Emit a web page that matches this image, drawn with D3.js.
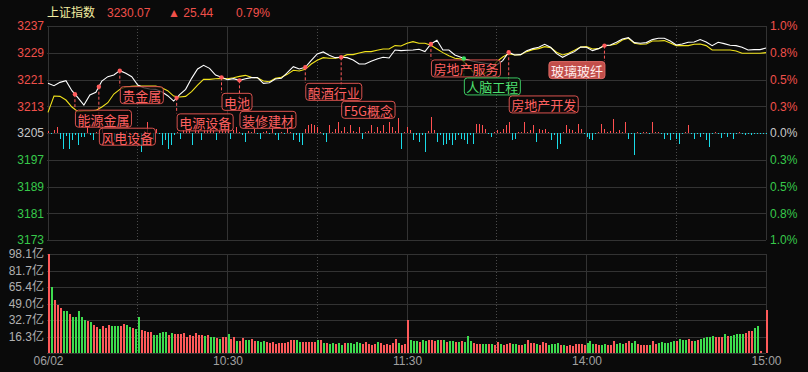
<!DOCTYPE html>
<html><head><meta charset="utf-8">
<script src="https://cdn.jsdelivr.net/npm/d3@7"></script>
<style>
html,body{margin:0;padding:0;background:#0a0a0a;}
svg{display:block;}
</style></head><body>
<svg id="c" width="808" height="372"></svg>
<script>
// ---------- DATA ----------
const title = "上证指数";
const lastPrice = "3230.07";
const change = "25.44";
const changePct = "0.79%";
const prevClose = 3204.63;
const pctLevels = [1, 0.75, 0.5, 0.25, 0, -0.25, -0.5, -0.75, -1];
const priceTicks = ["3237","3229","3221","3213","3205","3197","3189","3181","3173"];
const pctTicks = ["1.0%","0.8%","0.5%","0.3%","0.0%","0.3%","0.5%","0.8%","1.0%"];
const volTicks = [98.1, 81.7, 65.4, 49.0, 32.7, 16.3];
const timeTicks = [0, 60, 120, 180, 240];
const timeLabels = ["06/02", "10:30", "11:30", "14:00", "15:00"];
const solidMinutes = [60, 120, 180];
const dottedMinutes = [30, 90, 150, 210];
const sampleStep = 2; // minutes between line samples

// index price, every 2 minutes (0..240)
const price = [
 3219.5,3218.8,3219.8,3220.3,3217.3,3215.2,3213.0,3216.0,3216.8,3220.2,
 3221.5,3222.0,3223.3,3222.5,3221.5,3219.0,3218.2,3217.8,3217.7,3217.0,
 3215.8,3214.2,3216.1,3217.7,3221.0,3223.8,3224.9,3224.0,3222.0,3221.3,
 3220.6,3220.9,3220.4,3220.9,3221.2,3221.2,3219.5,3219.7,3220.8,3221.0,
 3222.7,3224.5,3223.8,3224.3,3226.4,3228.3,3228.9,3227.9,3227.2,3227.3,
 3227.2,3226.5,3225.3,3225.3,3226.1,3226.8,3227.3,3227.1,3229.5,3229.3,
 3229.4,
 3229.5,3229.7,3229.0,3231.3,3232.4,3229.5,3229.5,3228.0,3227.3,
 3226.6,3226.1,3225.8,3225.5,3225.2,3225.0,3226.3,3228.8,3228.0,3228.1,
 3229.3,3229.9,3230.3,3231.2,3230.3,3228.4,3227.3,3228.2,3229.0,3230.4,
 3230.3,3229.3,3229.9,3230.8,3231.0,3231.8,3232.8,3233.2,3231.7,3231.5,
 3231.7,3232.6,3233.0,3233.0,3232.2,3231.0,3231.3,3231.8,3231.9,3232.6,
 3231.9,3230.8,3231.8,3231.4,3230.9,3230.8,3230.3,3229.5,3229.6,3229.6,
 3230.07
];
// yellow (unweighted) line, every 2 minutes
const avgPrice = [
 3210.8,3215.7,3215.6,3214.5,3212.4,3211.0,3211.2,3211.2,3211.4,3212.4,
 3213.7,3216.3,3217.7,3218.4,3218.6,3218.7,3218.7,3218.7,3218.7,3218.2,
 3217.3,3215.7,3215.4,3215.6,3217.0,3219.0,3220.7,3220.7,3220.9,3221.0,
 3220.9,3221.2,3221.6,3221.9,3221.3,3221.2,3220.2,3220.0,3221.0,3221.3,
 3222.2,3223.4,3223.2,3223.7,3225.3,3226.4,3227.2,3227.0,3227.0,3227.3,
 3228.1,3228.1,3228.6,3229.0,3229.0,3229.4,3229.8,3229.8,3230.8,3230.7,
 3231.5,
 3232.0,3231.5,3231.5,3230.9,3229.8,3228.7,3227.8,3227.0,3226.8,
 3225.2,3223.0,3222.5,3222.5,3223.7,3226.0,3227.4,3228.4,3228.0,3228.1,
 3229.0,3229.6,3229.9,3230.5,3230.2,3228.8,3228.0,3228.5,3229.4,3230.4,
 3230.5,3229.8,3229.9,3230.8,3230.9,3231.3,3232.5,3233.0,3231.5,3231.2,
 3231.3,3232.2,3232.2,3232.3,3231.6,3230.8,3230.8,3230.8,3231.2,3231.3,
 3230.8,3229.5,3229.5,3229.5,3229.5,3229.2,3228.5,3228.5,3228.5,3228.5,
 3228.7
];
// per-minute buy/sell strength bars around the zero line
const flow = [
 2,-1,3,6,-6,-16,-3,-16,-7,-2,
 -12,-4,-4,6,-2,-7,1,3,6,-1,
 -2,-6,-7,-4,-1,-6,2,-7,-1,1,
 -2,-19,2,11,1,-7,4,-1,-12,-7,
 -16,-12,-2,1,-6,3,4,5,-12,6,
 3,-7,5,3,6,4,-7,5,4,3,
 8,-6,3,6,1,-2,-9,2,1,4,
 -1,-6,1,2,-1,6,-2,-7,1,-1,
 6,1,-7,-2,-9,-12,4,8,9,8,
 6,1,-2,-9,8,1,4,11,2,6,
 1,8,2,1,6,-6,1,2,8,1,
 6,2,8,1,11,6,2,15,-16,1,
 6,3,-7,-2,-9,-2,-19,2,16,3,
 -9,-2,-12,-11,-7,-12,-7,-2,-6,-7,
 -11,-2,-11,9,9,8,4,-1,-4,1,
 3,1,4,8,11,-7,-6,1,1,11,
 1,3,8,-9,4,3,4,1,-7,-2,
 -16,-11,1,8,4,3,1,9,4,-1,
 -4,-6,-7,-1,1,9,4,1,2,14,
 1,3,1,11,-6,-1,-22,1,-1,1,
 1,-1,11,1,1,-1,-6,-2,-7,-1,
 -6,-11,-1,1,8,-1,-6,-1,-4,-1,
 -7,-14,-1,1,-1,-5,-1,-4,-1,-6,
 -1,1,-1,-2,-1,-2,-1,-1,-1,-1,
 -1
];
// per-minute turnover (亿)
const volume = [
 98.1,65.0,52.8,47.9,44.6,41.2,41.2,39.0,35.3,35.3,
 41.2,36.0,33.0,31.3,30.3,28.0,25.7,23.8,27.0,24.4,
 28.0,26.4,27.0,27.0,26.4,29.0,28.0,25.7,24.8,23.8,
 35.3,22.4,21.4,21.1,20.4,18.1,18.1,19.8,21.1,21.1,
 18.1,19.8,19.1,19.1,19.1,19.8,15.9,18.1,17.1,20.1,
 18.1,18.1,17.1,18.1,15.5,15.5,14.8,14.2,16.2,16.2,
 19.1,14.2,15.5,12.2,12.2,15.2,13.2,13.2,14.2,12.2,
 12.2,11.2,12.2,11.2,10.2,11.2,9.2,10.2,10.2,10.2,
 11.2,13.2,13.2,13.2,11.2,11.2,11.2,11.2,11.2,11.2,
 13.2,13.2,10.2,10.2,9.2,10.2,9.2,10.2,8.2,10.2,
 10.2,10.2,9.2,11.2,10.2,9.2,11.2,9.2,8.2,9.2,
 11.2,10.2,8.2,9.2,8.3,9.9,14.2,9.9,8.3,8.9,
 33.0,13.2,11.6,11.6,10.6,13.2,11.6,13.2,12.6,11.6,
 13.2,12.6,13.2,10.6,11.6,11.6,10.6,10.6,11.6,10.6,
 17.2,11.6,9.9,9.2,9.2,9.2,9.2,9.2,9.2,8.3,
 10.6,8.9,8.3,9.2,9.9,9.2,9.2,8.3,8.3,9.2,
 12.6,9.9,9.9,9.2,8.3,10.6,9.9,8.3,9.2,9.2,
 9.9,8.3,8.3,7.3,8.3,7.3,8.9,9.2,8.9,8.3,
 9.9,11.6,9.2,8.9,8.3,8.3,9.2,8.3,8.3,11.6,
 9.2,9.9,8.9,9.9,11.6,9.9,12.2,9.2,8.3,8.3,
 8.3,8.3,11.6,9.2,9.9,10.6,9.9,9.9,10.6,12.2,
 11.6,14.2,13.2,13.2,14.2,12.2,12.2,13.2,14.2,14.9,
 15.5,15.5,16.5,15.5,15.5,15.5,19.2,16.5,16.5,18.2,
 18.8,19.2,19.2,19.8,21.5,21.5,24.8,27.1,1.6,0,
 42.9
];
// 1 = up minute (red), 0 = down minute (green)
const volUp = [
 1,0,1,1,1,0,0,1,0,0, 0,0,0,1,0,1,1,0,1,1,
 1,0,0,0,1,1,0,0,1,0, 0,1,1,1,1,0,0,0,0,0,
 1,0,1,1,1,1,1,1,1,1, 1,1,0,1,0,0,1,0,1,1,
 0,1,1,0,1,1,0,0,1,1, 0,0,0,1,1,1,1,1,1,1,
 1,1,1,0,0,1,1,1,1,1, 0,1,0,1,0,0,1,0,0,1,
 0,0,0,0,0,1,1,1,1,1, 0,1,1,1,1,1,1,0,1,1,
 1,0,0,0,1,0,0,1,1,1, 0,1,0,1,0,0,1,0,1,0,
 0,0,1,1,1,0,0,1,0,1, 1,0,1,1,1,0,0,1,1,0,
 1,1,1,0,1,1,1,0,0,0, 0,1,0,1,1,1,1,1,1,1,
 0,0,0,1,1,0,0,1,1,1, 0,0,0,1,1,0,0,1,1,1,
 1,0,1,1,0,0,0,0,0,0, 1,0,0,0,1,1,0,1,0,0,
 0,0,0,1,1,1,0,1,0,0, 0,0,0,1,1,1,0,0,1,1,
 1
];
// sector events along the line
const events = [
 {m:9,   name:"能源金属",   kind:"up"},
 {m:17,  name:"风电设备",   kind:"up"},
 {m:24,  name:"贵金属",     kind:"up"},
 {m:43,  name:"电源设备",   kind:"up"},
 {m:58,  name:"电池",       kind:"up"},
 {m:64,  name:"装修建材",   kind:"up"},
 {m:86,  name:"酿酒行业",   kind:"up"},
 {m:98,  name:"F5G概念",    kind:"up"},
 {m:128, name:"房地产服务", kind:"up"},
 {m:139, name:"人脑工程",   kind:"down"},
 {m:154, name:"房地产开发", kind:"up"},
 {m:186, name:"玻璃玻纤",   kind:"hot"}
];

// ---------- DRAW ----------
const RED = "#f0504a", GREEN = "#37c84a", GRAY = "#c8c8c8";
const svg = d3.select("#c");
svg.append("rect").attr("width",808).attr("height",372).attr("fill","#0a0a0a");

const x = d3.scaleLinear().domain([0,240]).range([48,766]);
const y = d3.scaleLinear().domain([prevClose*0.99, prevClose*1.01]).range([240,26]);
const yv = d3.scaleLinear().domain([0,98.1]).range([353,254]);
const y0 = y(prevClose);
const yf = d3.scaleLinear().domain([-1,1]).range([y0+1,y0-1]);
const cr = v => Math.round(v) + 0.5;
const NUMF = "'Liberation Sans', Arial, 'Noto Sans CJK SC', sans-serif";
const CJKF = "'Noto Sans CJK SC', 'Liberation Sans', sans-serif";

const grid = svg.append("g").attr("shape-rendering","crispEdges");
const levelPrices = pctLevels.map(p => prevClose*(1+p/100));
// horizontal grid - main
levelPrices.forEach(p => grid.append("line").attr("x1",47).attr("x2",766)
  .attr("y1",cr(y(p))).attr("y2",cr(y(p))).attr("stroke","#333"));
// horizontal grid - volume
[0].concat(volTicks).forEach(v => grid.append("line").attr("x1",47).attr("x2",766)
  .attr("y1",cr(yv(v))).attr("y2",cr(yv(v))).attr("stroke","#333"));
// vertical grid
const panels = [[y.range()[1], y.range()[0]], [yv(98.1), yv(0)]];
panels.forEach(([t,b]) => {
  solidMinutes.concat([0,240]).forEach(m => grid.append("line")
    .attr("x1",cr(x(m)-0.5)).attr("x2",cr(x(m)-0.5)).attr("y1",t).attr("y2",b).attr("stroke","#333"));
  dottedMinutes.forEach(m => grid.append("line")
    .attr("x1",cr(x(m)-0.5)).attr("x2",cr(x(m)-0.5)).attr("y1",t).attr("y2",b)
    .attr("stroke","#4a4a4a").attr("stroke-dasharray","1,2"));
});

// flow bars
svg.append("g").attr("shape-rendering","crispEdges").selectAll("rect").data(flow).join("rect")
  .attr("x",(d,i)=>Math.round(x(i)))
  .attr("width",1)
  .attr("y",d=> d>=0 ? yf(d) : y0)
  .attr("height",d=>Math.abs(yf(d)-y0))
  .attr("fill",d=> d>=0 ? "#ff5050" : "#19dbe8");

// volume bars
svg.append("g").attr("shape-rendering","crispEdges").selectAll("rect").data(volume).join("rect")
  .attr("x",(d,i)=>Math.round(x(i)))
  .attr("width",2)
  .attr("y",d=>yv(d))
  .attr("height",d=>yv(0)-yv(d))
  .attr("fill",(d,i)=> volUp[i] ? "#ff5a5a" : "#3ddc4e");

// lines
const line = d3.line().x((d,i)=>x(i*sampleStep)).y(d=>y(d));
svg.append("path").datum(avgPrice).attr("d",line).attr("fill","none")
  .attr("stroke","#f2e41c").attr("stroke-width",1.1);
svg.append("path").datum(price).attr("d",line).attr("fill","none")
  .attr("stroke","#ffffff").attr("stroke-width",1.1);

// axes
function styleAxis(g, colorFn, family){
  g.select(".domain").remove();
  g.selectAll(".tick line").remove();
  g.selectAll("text").attr("font-size",12).attr("font-family",family||NUMF)
    .attr("fill",(d,i)=>colorFn(i));
}
const lvlColor = i => pctLevels[i] > 0 ? RED : (pctLevels[i] < 0 ? GREEN : GRAY);
svg.append("g").attr("transform","translate(47,0)")
  .call(d3.axisLeft(y).tickValues(levelPrices).tickSize(0).tickPadding(3).tickFormat((d,i)=>priceTicks[i]))
  .call(g=>styleAxis(g,lvlColor));
svg.append("g").attr("transform","translate(766,0)")
  .call(d3.axisRight(y).tickValues(levelPrices).tickSize(0).tickPadding(4).tickFormat((d,i)=>pctTicks[i]))
  .call(g=>styleAxis(g,lvlColor));
svg.append("g").attr("transform","translate(47,0)")
  .call(d3.axisLeft(yv).tickValues(volTicks).tickSize(0).tickPadding(3).tickFormat(d=>d.toFixed(1)+"亿"))
  .call(g=>styleAxis(g,()=>"#b0b0b0"));
svg.append("g").attr("transform","translate(0,353)")
  .call(d3.axisBottom(x).tickValues(timeTicks).tickSize(0).tickPadding(3).tickFormat((d,i)=>timeLabels[i]))
  .call(g=>styleAxis(g,()=>"#a0a0a0"));

// header
const hdr = svg.append("g").attr("font-size",12).attr("font-family",NUMF);
hdr.append("text").attr("x",47).attr("y",17).attr("fill","#f3eda0").attr("font-family",CJKF).text(title);
hdr.append("text").attr("x",107).attr("y",17).attr("fill",RED).text(lastPrice);
hdr.append("text").attr("x",168).attr("y",17).attr("fill",RED).text("▲ " + change);
hdr.append("text").attr("x",236).attr("y",17).attr("fill",RED).text(changePct);

// events
function priceAt(m){
  const idx = m / sampleStep, lo = Math.floor(idx), hi = Math.ceil(idx);
  return d3.interpolateNumber(price[lo], price[hi])(idx - lo);
}
const kindStyle = {
  up:   {stroke:"#d9534f", fill:"rgba(12,8,8,0.72)", text:"#ff6060", dot:"#ff5c5c"},
  down: {stroke:"#3cc862", fill:"rgba(8,12,8,0.72)", text:"#4ee070", dot:"#3ee060"},
  hot:  {stroke:"#e06a66", fill:"#c24e4a", text:"#ffecec", dot:"#ff5c5c"}
};
const leaderG = svg.append("g");
const labelG = svg.append("g");
const dotG = svg.append("g");
const placed = [];
const LH = 17, GAP = 15.5;
events.forEach(ev => {
  const st = kindStyle[ev.kind];
  const dx = x(ev.m), dy = y(priceAt(ev.m));
  const g = labelG.append("g");
  const rect = g.append("rect");
  const txt = g.append("text").attr("font-size",13).attr("font-family",CJKF)
    .attr("fill",st.text).attr("dominant-baseline","central").text(ev.name);
  const w = txt.node().getComputedTextLength() + 4;
  const bx = ev.kind === "hot" ? dx - w : dx;
  let top = dy + GAP, moved = true;
  while (moved) {
    moved = false;
    for (const p of placed) {
      if (bx < p.x + p.w && bx + w > p.x && top < p.top + LH && top + LH > p.top) {
        top = p.top + LH + 1; moved = true;
      }
    }
  }
  placed.push({x:bx, w:w, top:top});
  rect.attr("x",bx+0.5).attr("y",top+0.5).attr("width",w).attr("height",LH)
    .attr("rx",3).attr("fill",st.fill).attr("stroke",st.stroke).attr("stroke-width",1);
  txt.attr("x",bx+2.5).attr("y",top+LH/2+1);
  leaderG.append("line").attr("x1",dx).attr("x2",dx).attr("y1",dy).attr("y2",top)
    .attr("stroke",st.dot).attr("stroke-dasharray","3,2").attr("stroke-width",1);
  dotG.append("circle").attr("cx",dx).attr("cy",dy).attr("r",2.2).attr("fill",st.dot);
});
</script>
</body></html>
